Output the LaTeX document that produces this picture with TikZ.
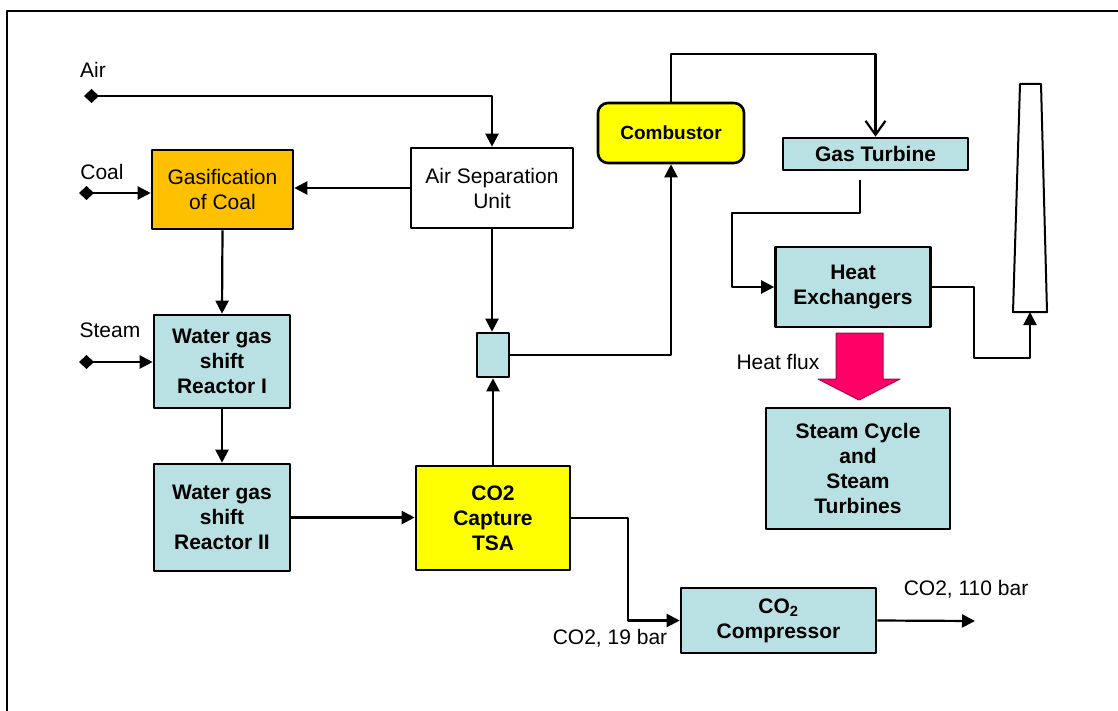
\documentclass[tikz,border=0pt]{standalone}
\usepackage{fontspec}
\setmainfont{Liberation Sans}
\usetikzlibrary{arrows.meta}
\definecolor{pale}{RGB}{185,224,227}
\definecolor{amber}{RGB}{255,192,0}
\definecolor{lemon}{RGB}{255,255,0}
\definecolor{heat}{RGB}{255,0,102}
\begin{document}
\begin{tikzpicture}[x=1pt, y=-1pt, line join=round,
		font=\fontsize{21}{25}\selectfont,
		box/.style={draw, line width=2.6pt, align=center, inner sep=0pt},
		unit/.style={box, fill=pale, font=\fontsize{21}{25}\selectfont\bfseries},
		flow/.style={line width=2.2pt, -{Triangle[length=13pt,width=13pt]}},
		feed/.style={line width=2.2pt, {Diamond[length=15pt,width=14pt]}-{Triangle[length=13pt,width=13pt]}}]
		\useasboundingbox (0,0) rectangle (1118,711);
		\draw[line width=2.2pt] (7,711) -- (7,11) -- (1118,11);
		\node[box, fill=amber, minimum width=141, minimum height=79] (gasif) at (222.5,189.5) {Gasification\\of Coal};
		\node[box, fill=white, minimum width=162, minimum height=80] (asu) at (492,188) {Air Separation\\Unit};
		\node[unit, minimum width=136, minimum height=93] (wgsone) at (222,361.5) {Water gas\\shift\\Reactor I};
		\node[unit, minimum width=136, minimum height=107] (wgstwo) at (222,517.5) {Water gas\\shift\\Reactor II};
		\node[unit, fill=lemon, minimum width=154, minimum height=104] (capture) at (493,518) {CO2\\Capture\\TSA};
		\node[unit, minimum width=32, minimum height=44] (mixer) at (493,355) {};
		\node[unit, fill=lemon, rounded corners=10pt, minimum width=146, minimum height=60, font=\fontsize{19}{23}\selectfont\bfseries] (comb) at (671,133) {Combustor};
		\node[unit, minimum width=185, minimum height=32] (gasturb) at (875.5,154) {Gas Turbine};
		\node[unit, minimum width=155, minimum height=80] (hex) at (853,287) {Heat\\Exchangers};
		\node[unit, minimum width=184, minimum height=121] (steamcyc) at (858,468.5) {Steam Cycle\\and\\Steam\\Turbines};
		\node[unit, minimum width=195, minimum height=65] (compr) at (778.5,620.5) {CO\textsubscript{2}\\Compressor};
		\node (airlbl) at (93,70) {Air};
		\node (coallbl) at (102,172) {Coal};
		\node (steamlbl) at (110,330) {Steam};
		\node (fluxlbl) at (778,362) {Heat flux};
		\node (lowlbl) at (610,638) {CO2, 19 bar};
		\node (highlbl) at (966,589) {CO2, 110 bar};
		\coordinate (airin) at (84,96);
		\coordinate (coalin) at (79,193);
		\coordinate (steamin) at (79,362);
		\coordinate (gtout) at (860,180);
		\coordinate (stackbase) at (1030,312);
		\coordinate (co2out) at (975,621);
		\draw[line width=2pt] (1020,84) -- (1041,84) -- (1047,312) -- (1013,312) -- cycle;
		\filldraw[fill=heat, draw=heat!70!black, line width=1pt] (836,333) -- (883,333) -- (883,379) -- (900,379) -- (859,400) -- (818,379) -- (836,379) -- cycle;
		\draw[feed] (airin) -| (asu.north);
		\draw[feed] (coalin) -- (gasif.west |- coalin);
		\draw[feed] (steamin) -- (wgsone.west |- steamin);
		\draw[flow] (asu.west) -- (asu.west -| gasif.east);
		\draw[flow] (gasif.south) -- (wgsone.north);
		\draw[flow] (wgsone.south) -- (wgstwo.north);
		\draw[flow] (wgstwo.east) -- (wgstwo.east -| capture.west);
		\draw[flow] (capture.north) -- (mixer.south);
		\draw[flow] (asu.south) -- (mixer.north -| asu.south);
		\draw[flow] (mixer.east) -| (comb.south);
		\draw[line width=2.2pt, -{Straight Barb[length=14pt,width=20pt]}] (comb.north) -- ++(0,-48) -| (gasturb.north);
		\draw[flow] (gtout) -- ++(0,33) -- ++(-128,0) |- (hex.west);
		\draw[flow] (hex.east) -- ++(42,0) -- ++(0,71) -| (stackbase);
		\draw[flow] (capture.east) -- ++(57,0) |- (compr.west);
		\draw[flow] (compr.east) -- (co2out);
	\end{tikzpicture}
\end{document}
